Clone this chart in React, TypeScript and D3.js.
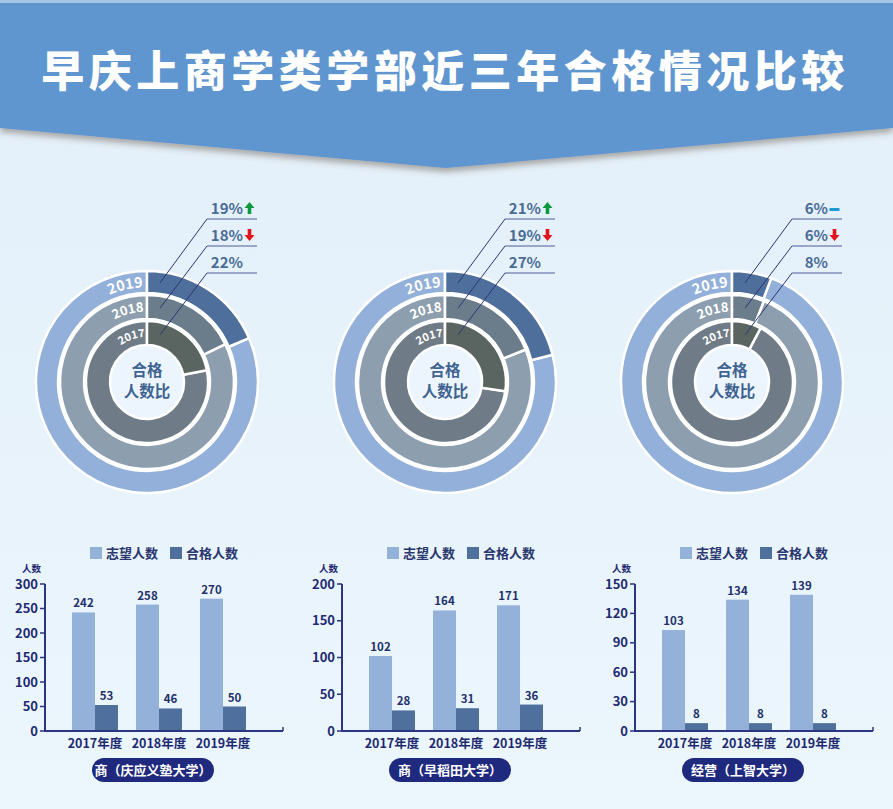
import * as d3 from "d3";

const title = "早庆上商学类学部近三年合格情况比较";
const years = ["2017年度", "2018年度", "2019年度"];
const ringYears = ["2017", "2018", "2019"];
const schools = ["商（庆应义塾大学）", "商（早稻田大学）", "经营（上智大学）"];
const seriesNames = ["志望人数", "合格人数"];

const keioApplicants = [242, 258, 270];
const keioPassed = [53, 46, 50];
const wasedaApplicants = [102, 164, 171];
const wasedaPassed = [28, 31, 36];
const sophiaApplicants = [103, 134, 139];
const sophiaPassed = [8, 8, 8];

const keioTicks = [0, 50, 100, 150, 200, 250, 300];
const wasedaTicks = [0, 50, 100, 150, 200];
const sophiaTicks = [0, 30, 60, 90, 120, 150];

// trend of each year's pass rate vs the previous year (2017, 2018, 2019)
const keioTrend = [null, "down", "up"];
const wasedaTrend = [null, "down", "up"];
const sophiaTrend = [null, "down", "flat"];

const W = 893;
const H = 809;
const FONT = "'Noto Sans CJK SC', 'Noto Sans', sans-serif";
const NAVY = "#1f2a70";
const LIGHT = "#93b1d9";
const DARK = "#4f6f9c";

// rings from inner (2017) to outer (2019)
const rings = [
  { inner: 37, outer: 61, pass: "#5a6562", rest: "#6f7c87", fs: 11, lineY: 273 },
  { inner: 63, outer: 87, pass: "#6b7c8b", rest: "#8d9fae", fs: 13, lineY: 246 },
  { inner: 89, outer: 111, pass: "#4e6e9b", rest: "#92b0d9", fs: 14.5, lineY: 219 },
];

const panels = [
  { applicants: keioApplicants, passed: keioPassed, ticks: keioTicks, trend: keioTrend, cx: 147, x0: 45 },
  { applicants: wasedaApplicants, passed: wasedaPassed, ticks: wasedaTicks, trend: wasedaTrend, cx: 445, x0: 342 },
  { applicants: sophiaApplicants, passed: sophiaPassed, ticks: sophiaTicks, trend: sophiaTrend, cx: 732, x0: 635 },
];

const CY = 382;

function Arrow({ x, y, kind }: { x: number; y: number; kind: string | null }) {
  if (!kind) return null;
  if (kind === "flat") {
    return <rect x={x} y={y - 6} width={10} height={3} fill="#1b9ad6" />;
  }
  const up = kind === "up";
  const color = up ? "#0b9a3c" : "#e3141b";
  // arrow drawn in a 10x13 box, top at y-12
  const t = y - 12;
  const d = up
    ? `M${x + 5},${t} L${x + 10},${t + 6} L${x + 6.8},${t + 6} L${x + 6.8},${t + 12} L${x + 3.2},${t + 12} L${x + 3.2},${t + 6} L${x},${t + 6} Z`
    : `M${x + 5},${t + 12} L${x + 10},${t + 6} L${x + 6.8},${t + 6} L${x + 6.8},${t} L${x + 3.2},${t} L${x + 3.2},${t + 6} L${x},${t + 6} Z`;
  return <path d={d} fill={color} />;
}

function Donut({ p, idx }: { p: (typeof panels)[number]; idx: number }) {
  const arc = d3.arc<{ inner: number; outer: number; start: number; end: number }>()
    .innerRadius((d) => d.inner)
    .outerRadius((d) => d.outer)
    .startAngle((d) => d.start)
    .endAngle((d) => d.end);
  const cx = p.cx;
  return (
    <g>
      <circle cx={cx} cy={CY} r={36} fill="#ecf5fd" />
      {rings.map((r, i) => {
        const ratio = p.passed[i] / p.applicants[i];
        const a = ratio * 2 * Math.PI;
        const mid = (r.inner + r.outer) / 2;
        const br = mid - r.fs * 0.36;
        const a0 = (-80 * Math.PI) / 180;
        const a1 = (-2.5 * Math.PI) / 180;
        const pathId = `yr-${idx}-${i}`;
        const sx = cx + br * Math.sin(a0);
        const sy = CY - br * Math.cos(a0);
        const ex = cx + br * Math.sin(a1);
        const ey = CY - br * Math.cos(a1);
        return (
          <g key={i}>
            <path
              d={arc({ inner: r.inner, outer: r.outer, start: a, end: 2 * Math.PI }) || ""}
              transform={`translate(${cx},${CY})`}
              fill={r.rest}
              stroke="#fff"
              strokeWidth={2.5}
            />
            <path
              d={arc({ inner: r.inner, outer: r.outer, start: 0, end: a }) || ""}
              transform={`translate(${cx},${CY})`}
              fill={r.pass}
              stroke="#fff"
              strokeWidth={2.5}
            />
            <path id={pathId} d={`M${sx},${sy} A${br},${br} 0 0 1 ${ex},${ey}`} fill="none" />
            <text fill="#fff" fontSize={r.fs} fontWeight={700} fontFamily={FONT}>
              <textPath href={`#${pathId}`} startOffset="100%" textAnchor="end">
                {ringYears[i]}
              </textPath>
            </text>
          </g>
        );
      })}
      <text x={cx} y={CY - 6} textAnchor="middle" fontSize={15.5} fontWeight={700} fill="#3f6390" fontFamily={FONT}>
        合格
      </text>
      <text x={cx} y={CY + 15} textAnchor="middle" fontSize={15.5} fontWeight={700} fill="#3f6390" fontFamily={FONT}>
        人数比
      </text>
      {rings.map((r, i) => {
        const mid = (r.inner + r.outer) / 2;
        const tx = cx + 13;
        const ty = CY - Math.sqrt(mid * mid - 169);
        const pct = Math.round((p.passed[i] / p.applicants[i]) * 100);
        return (
          <g key={`l${i}`}>
            <line x1={tx} y1={ty} x2={cx + 60} y2={r.lineY} stroke="#2b3676" strokeWidth={1} />
            <line x1={cx + 60} y1={r.lineY} x2={cx + 110} y2={r.lineY} stroke="#4c5c98" strokeWidth={1.2} />
            <text
              x={cx + 96}
              y={r.lineY - 5}
              textAnchor="end"
              fontSize={15}
              fontWeight={700}
              fill="#4a6c96"
              fontFamily={FONT}
            >
              {pct}%
            </text>
            <Arrow x={cx + 97.5} y={r.lineY - 5} kind={p.trend[i]} />
          </g>
        );
      })}
    </g>
  );
}

function Bars({ p, idx }: { p: (typeof panels)[number]; idx: number }) {
  const x0 = p.x0;
  const yMax = p.ticks[p.ticks.length - 1];
  const y = d3.scaleLinear().domain([0, yMax]).range([731, 584]);
  const xg = d3.scaleBand().domain(years).range([x0 + 18, x0 + 210]).padding(0);
  const xs = d3.scaleBand().domain(seriesNames).range([-23, 23]).padding(0);
  return (
    <g fontFamily={FONT}>
      {/* legend */}
      {seriesNames.map((s, i) => (
        <g key={s}>
          <rect x={x0 + 45 + i * 80} y={547} width={12} height={12} fill={i === 0 ? LIGHT : DARK} />
          <text x={x0 + 61 + i * 80} y={558} fontSize={13} fontWeight={700} fill="#2a366e">
            {s}
          </text>
        </g>
      ))}
      <text x={x0 - 23} y={572} fontSize={9.5} fontWeight={700} fill={NAVY}>
        人数
      </text>
      {/* bars */}
      {years.map((yr, i) => {
        const c = (xg(yr) || 0) + xg.bandwidth() / 2;
        const vals = [p.applicants[i], p.passed[i]];
        return (
          <g key={yr}>
            {vals.map((v, j) => {
              const bx = c + (xs(seriesNames[j]) || 0);
              return (
                <g key={j}>
                  <rect x={bx} y={y(v)} width={xs.bandwidth()} height={731 - y(v)} fill={j === 0 ? LIGHT : DARK} />
                  <text x={bx + xs.bandwidth() / 2} y={y(v) - 5} textAnchor="middle" fontSize={11.5} fontWeight={700} fill="#23306b">
                    {v}
                  </text>
                </g>
              );
            })}
            <text x={c} y={748} textAnchor="middle" fontSize={12.5} fontWeight={700} fill={NAVY}>
              {yr}
            </text>
          </g>
        );
      })}
      {/* axes */}
      <line x1={x0} y1={584} x2={x0} y2={732} stroke="#2c3580" strokeWidth={2} />
      <line x1={x0} y1={731} x2={x0 + 238} y2={731} stroke="#2c3580" strokeWidth={2} />
      <line x1={x0 + 238} y1={731} x2={x0 + 238} y2={727} stroke="#2c3580" strokeWidth={1.5} />
      {p.ticks.map((t) => (
        <g key={t}>
          <line x1={x0 - 5} y1={y(t)} x2={x0} y2={y(t)} stroke="#2c3580" strokeWidth={1.5} />
          <text x={x0 - 7} y={y(t) + 4.5} textAnchor="end" fontSize={13} fontWeight={700} fill={NAVY}>
            {t}
          </text>
        </g>
      ))}
      {/* school pill */}
      <rect x={x0 + 47} y={758} width={122} height={24} rx={12} fill="#1f2a7e" />
      <text x={x0 + 108} y={775} textAnchor="middle" fontSize={13} fontWeight={700} fill="#fff">
        {schools[idx]}
      </text>
    </g>
  );
}

export default function App() {
  return (
    <div style={{ position: "absolute", left: 0, top: 0 }}>
      <svg width={W} height={H} style={{ display: "block" }}>
        <defs>
          <linearGradient id="bg" x1="0" y1="0" x2="0" y2="1">
            <stop offset="0" stopColor="#e3eff9" />
            <stop offset="1" stopColor="#ebf6fd" />
          </linearGradient>
          <filter id="shadow" x="-5%" y="-10%" width="110%" height="130%">
            <feDropShadow dx="0" dy="4" stdDeviation="3" floodColor="#5a4a3a" floodOpacity="0.45" />
          </filter>
        </defs>
        <rect width={W} height={H} fill="url(#bg)" />
        <path d={`M0,0 H${W} V128 L446,168 L0,128 Z`} fill="#6096d0" filter="url(#shadow)" />
        <rect x={0} y={0} width={W} height={3} fill="#a6c5e6" />
        <text
          x={443 + 2}
          y={87}
          textAnchor="middle"
          fontSize={43}
          fontWeight={900}
          letterSpacing={4.5}
          fill="#fff"
          fontFamily={FONT}
        >
          {title}
        </text>
        {panels.map((p, i) => (
          <Donut key={`d${i}`} p={p} idx={i} />
        ))}
        {panels.map((p, i) => (
          <Bars key={`b${i}`} p={p} idx={i} />
        ))}
      </svg>
    </div>
  );
}
